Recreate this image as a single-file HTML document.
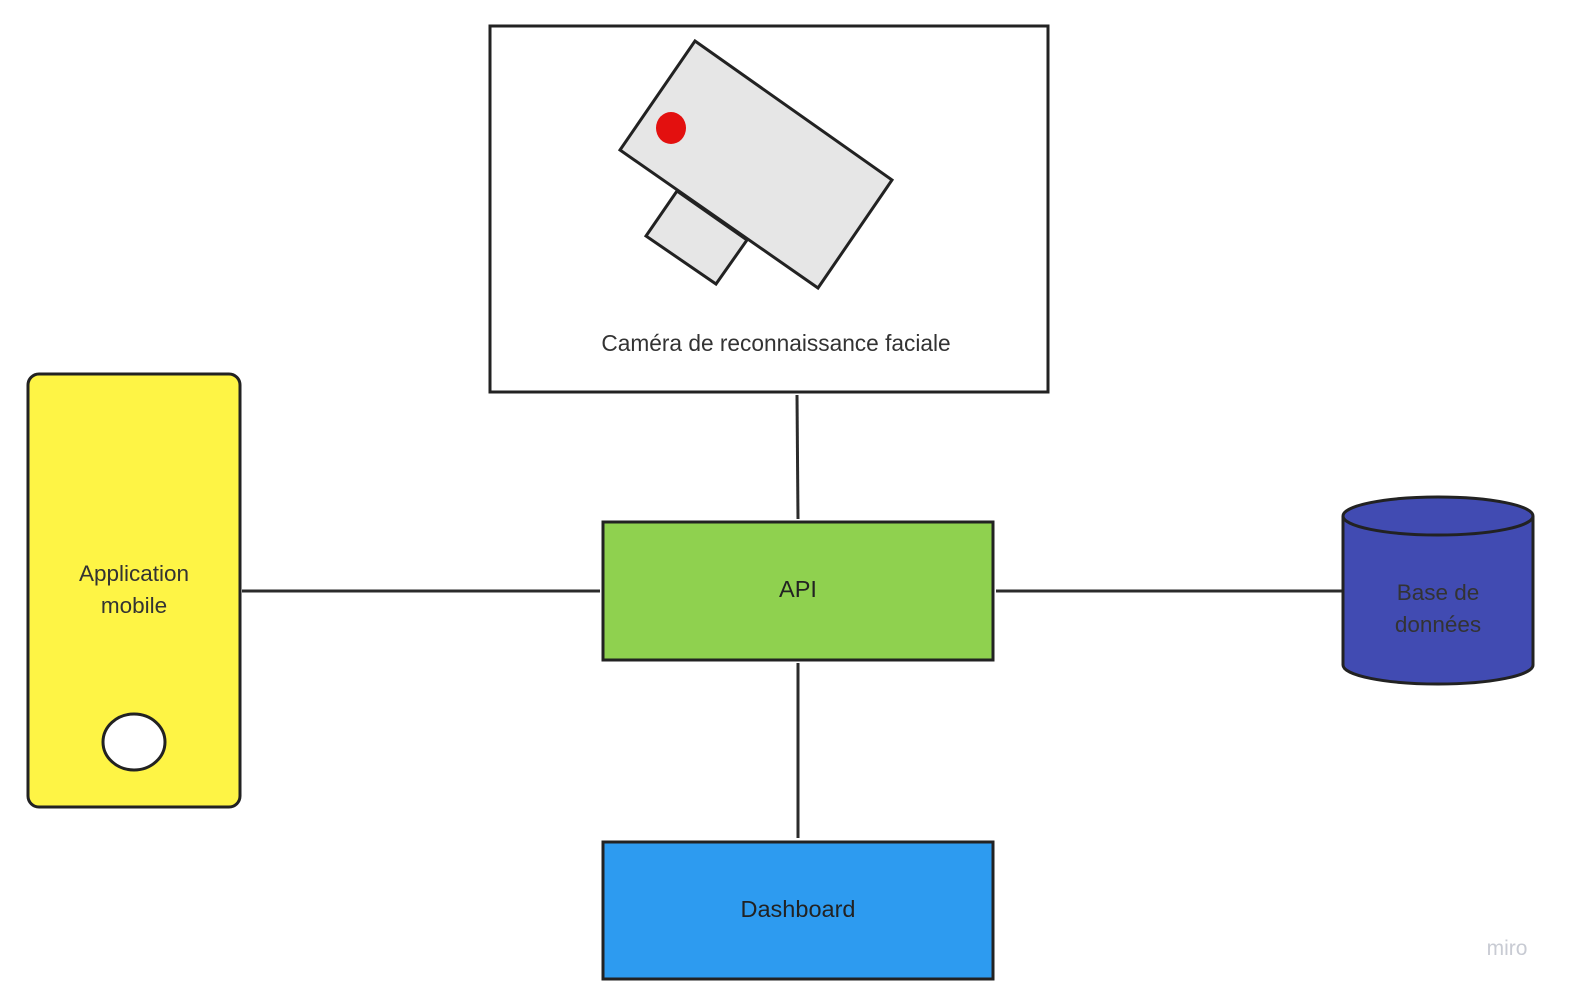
<!DOCTYPE html>
<html><head><meta charset="utf-8"><style>
html,body{margin:0;padding:0;background:#fff;}
svg{display:block;font-family:"Liberation Sans",sans-serif;}
</style></head><body>
<svg width="1571" height="994" viewBox="0 0 1571 994">
<g stroke="#2b2b2b" stroke-width="3" fill="none">
<line x1="797" y1="395" x2="798" y2="519"/>
<line x1="242" y1="591" x2="600" y2="591"/>
<line x1="996" y1="591" x2="1343" y2="591"/>
<line x1="798" y1="663" x2="798" y2="838"/>
</g>
<g>
<rect x="490" y="26" width="558" height="366" fill="#fff" stroke="#222" stroke-width="3"/>
<polygon points="677,191 747,240 716,284 646,236" fill="#e6e6e6" stroke="#222" stroke-width="3"/>
<polygon points="695,41 892,180 818,288 620,150" fill="#e6e6e6" stroke="#222" stroke-width="3"/>
<ellipse cx="671" cy="128" rx="15" ry="16" fill="#e3100f"/>
<text x="776" y="351" font-size="22.7" fill="#333" text-anchor="middle">Caméra de reconnaissance faciale</text>
</g>
<g>
<rect x="28" y="374" width="212" height="433" rx="11" fill="#fef445" stroke="#222" stroke-width="3"/>
<ellipse cx="134" cy="742" rx="31" ry="28" fill="#fff" stroke="#222" stroke-width="3"/>
<text x="134" y="581" font-size="22.5" fill="#333" text-anchor="middle"><tspan x="134">Application</tspan><tspan x="134" dy="32">mobile</tspan></text>
</g>
<g>
<rect x="603" y="522" width="390" height="138" fill="#8fd14f" stroke="#222" stroke-width="3"/>
<text x="798" y="597" font-size="23.5" fill="#222" text-anchor="middle">API</text>
</g>
<g>
<rect x="603" y="842" width="390" height="137" fill="#2d9bf0" stroke="#222" stroke-width="3"/>
<text x="798" y="917" font-size="23.5" fill="#222" text-anchor="middle">Dashboard</text>
</g>
<g>
<path d="M1343,516 L1343,665 A95,19 0 0 0 1533,665 L1533,516" fill="#414bb2" stroke="#222" stroke-width="3"/>
<ellipse cx="1438" cy="516" rx="95" ry="19" fill="#414bb2" stroke="#222" stroke-width="3"/>
<text x="1438" y="600" font-size="22.5" fill="#333" text-anchor="middle"><tspan x="1438">Base de</tspan><tspan x="1438" dy="32">données</tspan></text>
</g>
<text x="1507" y="955" font-size="21" fill="#c8cbd3" text-anchor="middle">miro</text>
</svg>
</body></html>
